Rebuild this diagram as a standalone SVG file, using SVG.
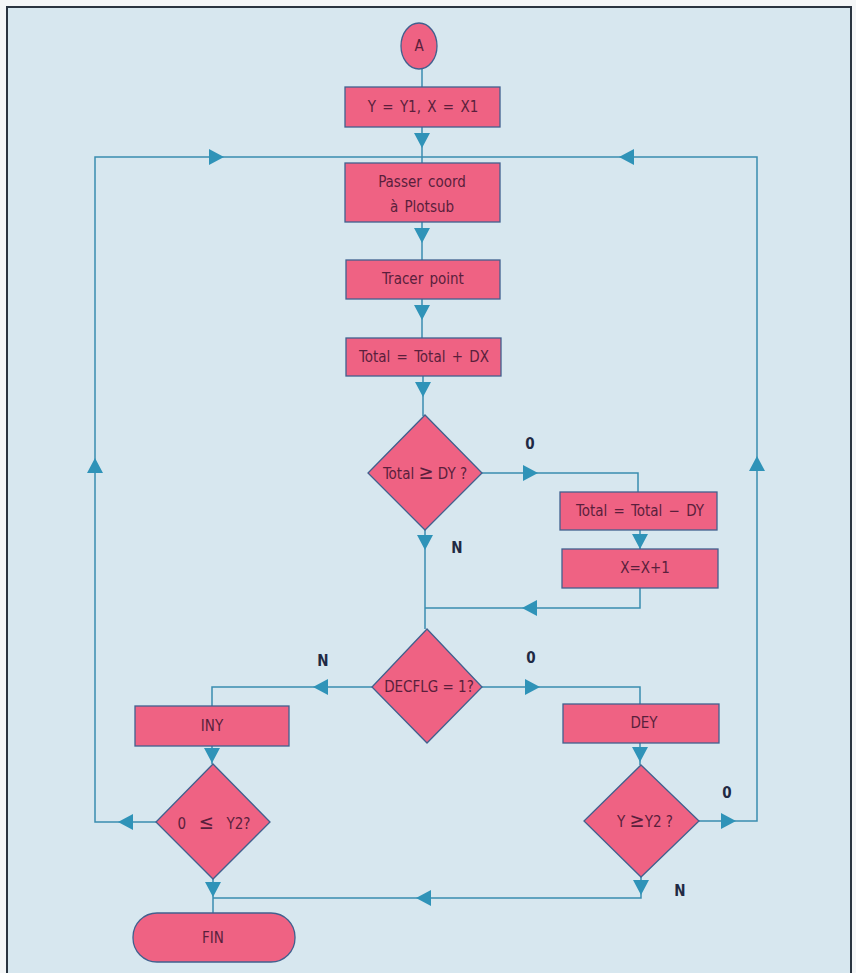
<svg xmlns="http://www.w3.org/2000/svg" width="856" height="973" viewBox="0 0 856 973">
<style>
.bg{fill:#d7e7ef}
.frame{fill:none;stroke:#2a3440;stroke-width:2}
.node{fill:#ef6283;stroke:#41608e;stroke-width:1.3}
.t{font-family:"DejaVu Sans Condensed","Liberation Sans",sans-serif;font-size:15px;word-spacing:2px;fill:#5a1f3c;text-anchor:middle}
.big{font-size:20px}
.lbl{font-family:"DejaVu Sans Condensed","Liberation Sans",sans-serif;font-size:15px;font-weight:bold;fill:#1f2a44;text-anchor:middle}
.c{fill:none;stroke:#3a8db0;stroke-width:1.5}
.ah{fill:#2f93b8}
</style>
<defs>
<path id="ar" d="M-7,-8 L8,0 L-7,8 Z"/>
</defs>
<rect x="0" y="0" width="856" height="973" fill="#f4f6f7"/>
<rect class="bg" x="7" y="7" width="844" height="980"/>
<rect class="frame" x="7" y="7" width="844" height="980"/>

<g id="connectors">
<path class="c" d="M422,68 V87"/>
<path class="c" d="M422,127 V163"/>
<path class="c" d="M422,222 V260"/>
<path class="c" d="M422,299 V338"/>
<path class="c" d="M423,376 V416"/>
<path class="c" d="M482,473 H638 V492"/>
<path class="c" d="M640,530 V549"/>
<path class="c" d="M640,588 V608 H425"/>
<path class="c" d="M425,530 V629"/>
<path class="c" d="M372,687 H212 V706"/>
<path class="c" d="M212,746 V764"/>
<path class="c" d="M156,822 H95 V157 H422"/>
<path class="c" d="M213,879 V913"/>
<path class="c" d="M482,687 H640 V704"/>
<path class="c" d="M640,743 V765"/>
<path class="c" d="M699,821 H757 V157 H422"/>
<path class="c" d="M641,877 V898 H213"/>
<g class="ah">
<use href="#ar" transform="translate(422,140) rotate(90)"/>
<use href="#ar" transform="translate(422,235) rotate(90)"/>
<use href="#ar" transform="translate(422,312) rotate(90)"/>
<use href="#ar" transform="translate(423,389) rotate(90)"/>
<use href="#ar" transform="translate(530,473)"/>
<use href="#ar" transform="translate(640,541) rotate(90)"/>
<use href="#ar" transform="translate(530,608) rotate(180)"/>
<use href="#ar" transform="translate(425,542) rotate(90)"/>
<use href="#ar" transform="translate(321,687) rotate(180)"/>
<use href="#ar" transform="translate(532,687)"/>
<use href="#ar" transform="translate(212,755) rotate(90)"/>
<use href="#ar" transform="translate(640,754) rotate(90)"/>
<use href="#ar" transform="translate(126,822) rotate(180)"/>
<use href="#ar" transform="translate(728,821)"/>
<use href="#ar" transform="translate(213,889) rotate(90)"/>
<use href="#ar" transform="translate(641,887) rotate(90)"/>
<use href="#ar" transform="translate(424,898) rotate(180)"/>
<use href="#ar" transform="translate(95,466) rotate(-90)"/>
<use href="#ar" transform="translate(757,464) rotate(-90)"/>
<use href="#ar" transform="translate(216,157)"/>
<use href="#ar" transform="translate(627,157) rotate(180)"/>
</g>
<text class="lbl" x="530" y="449">0</text>
<text class="lbl" x="457" y="553">N</text>
<text class="lbl" x="323" y="666">N</text>
<text class="lbl" x="531" y="663">0</text>
<text class="lbl" x="727" y="798">0</text>
<text class="lbl" x="680" y="896">N</text>
</g>

<g id="startA">
<ellipse class="node" cx="419" cy="46" rx="18" ry="23"/>
<text class="t" x="419" y="51">A</text>
</g>
<g id="init">
<rect class="node" x="345" y="87" width="155" height="40"/>
<text class="t" x="423" y="112">Y = Y1, X = X1</text>
</g>
<g id="passer">
<rect class="node" x="345" y="163" width="155" height="59"/>
<text class="t" x="422" y="187">Passer coord</text>
<text class="t" x="422" y="212">à Plotsub</text>
</g>
<g id="tracer">
<rect class="node" x="346" y="260" width="154" height="39"/>
<text class="t" x="423" y="284">Tracer point</text>
</g>
<g id="totalplus">
<rect class="node" x="346" y="338" width="155" height="38"/>
<text class="t" x="424" y="362">Total = Total + DX</text>
</g>
<g id="dec1">
<path class="node" d="M425,415 L482,473 L425,530 L368,473 Z"/>
<text class="t" x="425" y="479" style="word-spacing:0">Total <tspan class="big">≥</tspan> DY ?</text>
</g>
<g id="totalminus">
<rect class="node" x="560" y="492" width="157" height="38"/>
<text class="t" x="640" y="516">Total = Total − DY</text>
</g>
<g id="xinc">
<rect class="node" x="562" y="549" width="156" height="39"/>
<text class="t" x="645" y="573">X=X+1</text>
</g>
<g id="dec2">
<path class="node" d="M427,629 L482,687 L427,743 L372,687 Z"/>
<text class="t" x="429" y="692" style="word-spacing:0">DECFLG = 1?</text>
</g>
<g id="iny">
<rect class="node" x="135" y="706" width="154" height="40"/>
<text class="t" x="212" y="731">INY</text>
</g>
<g id="dey">
<rect class="node" x="563" y="704" width="156" height="39"/>
<text class="t" x="644" y="728">DEY</text>
</g>
<g id="dec3">
<path class="node" d="M213,764 L270,822 L213,879 L156,822 Z"/>
<text class="t" x="214" y="829" xml:space="preserve">0  <tspan class="big">≤</tspan>  Y2?</text>
</g>
<g id="dec4">
<path class="node" d="M641,765 L699,821 L641,877 L584,821 Z"/>
<text class="t" x="645" y="827" style="word-spacing:0">Y <tspan class="big">≥</tspan>Y2 ?</text>
</g>
<g id="fin">
<rect class="node" x="133" y="913" width="162" height="49" rx="24" ry="24"/>
<text class="t" x="213" y="943">FIN</text>
</g>
</svg>
